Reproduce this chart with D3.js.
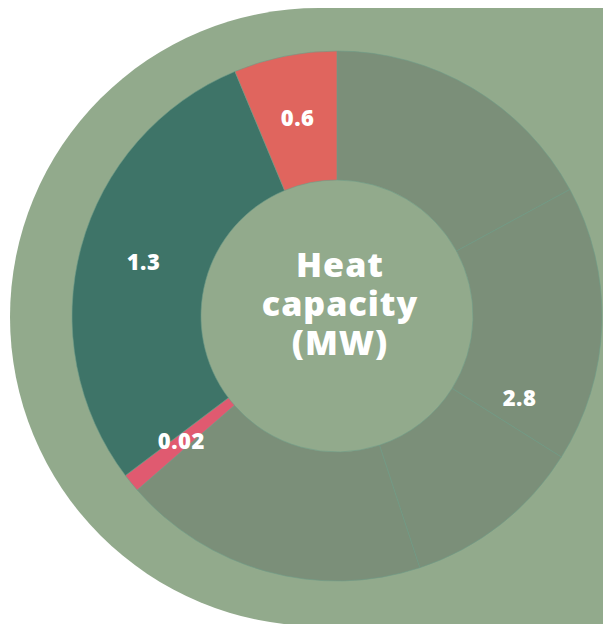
<!DOCTYPE html>
<html>
<head>
<meta charset="utf-8">
<script src="https://cdn.jsdelivr.net/npm/d3@7"></script>
<style>
  body { margin: 0; background: #fff; }
  svg { display: block; }
</style>
</head>
<body>
<script>
// segments as drawn, in clockwise order from 12 o'clock (arc sizes)
var segments = ["grey1", "grey2", "grey3", "grey4", "pink", "teal", "red"];
var segValues = [0.76, 0.75, 0.49, 0.83, 0.05, 1.29, 0.28];
var segGroup = ["other", "other", "other", "other", "small", "mid", "top"];

// labelled groups
var groups = ["other", "small", "mid", "top"];
var groupLabels = ["2.8", "0.02", "1.3", "0.6"];
var groupColors = ["#7b8f79", "#e05a70", "#3e7468", "#e0655e"];

var title = ["Heat", "capacity", "(MW)"];

var width = 603, height = 624;
var cx = 337, cy = 316;
var rInner = 136, rOuter = 265;

var color = d3.scaleOrdinal(groups, groupColors);

var svg = d3.select("body").append("svg")
    .attr("width", width)
    .attr("height", height);

// pale green backdrop, round on the left
svg.append("rect")
    .attr("x", 10)
    .attr("y", 8)
    .attr("width", 900)
    .attr("height", 618)
    .attr("rx", 309)
    .attr("fill", "#92aa8c");

var pie = d3.pie().sort(null).value(d => d.value);
var arc = d3.arc().innerRadius(rInner).outerRadius(rOuter);

var data = segments.map((s, i) => ({name: s, value: segValues[i], group: segGroup[i]}));
var arcs = pie(data);

var g = svg.append("g").attr("transform", `translate(${cx},${cy})`);

g.selectAll("path")
    .data(arcs)
    .join("path")
    .attr("d", arc)
    .attr("fill", d => color(d.data.group))
    .attr("stroke", "#6f9c88")
    .attr("stroke-width", 0.6);

// one label per group, at the middle of the group's arc span
var labelArcs = groups.map((grp, i) => {
    var parts = arcs.filter(a => a.data.group === grp);
    return {
        label: groupLabels[i],
        startAngle: d3.min(parts, p => p.startAngle),
        endAngle: d3.max(parts, p => p.endAngle)
    };
});

g.selectAll("text.val")
    .data(labelArcs)
    .join("text")
    .attr("class", "val")
    .attr("transform", d => `translate(${arc.centroid(d)})`)
    .attr("text-anchor", "middle")
    .attr("dy", "0.3em")
    .attr("fill", "#fff")
    .attr("font-family", "'Open Sans', sans-serif")
    .attr("font-weight", 800)
    .attr("font-size", 22)
    .attr("letter-spacing", 0.5)
    .text(d => d.label);

g.append("text")
    .attr("text-anchor", "middle")
    .attr("fill", "#fff")
    .attr("font-family", "'Open Sans', sans-serif")
    .attr("font-weight", 800)
    .attr("font-size", 34)
    .attr("letter-spacing", 1)
    .selectAll("tspan")
    .data(title)
    .join("tspan")
    .attr("x", 3)
    .attr("y", (d, i) => -39 + i * 39)
    .text(d => d);
</script>
</body>
</html>
